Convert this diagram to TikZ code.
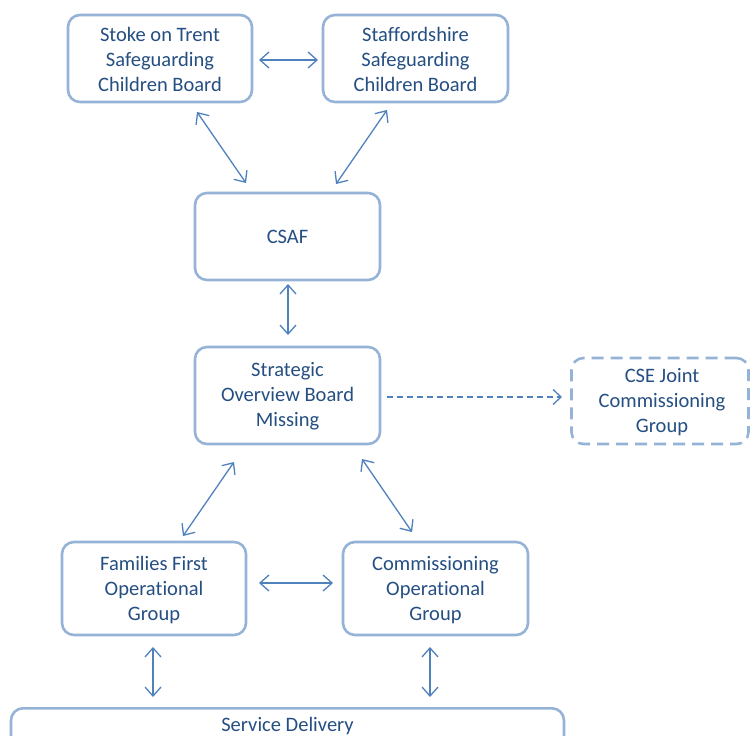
\documentclass[tikz,border=0pt]{standalone}
\usepackage{fontspec}
\setmainfont[Ligatures={NoCommon}]{Carlito}
\usetikzlibrary{arrows.meta}
\definecolor{boxc}{HTML}{95B3D7}
\definecolor{arrc}{HTML}{4F81BD}
\definecolor{txtc}{HTML}{254F82}
\begin{document}
\begin{tikzpicture}[x=1pt,y=-1pt,
  box/.style={draw=boxc,line width=2.6pt,rounded corners=12pt,fill=white,
    text=txtc,align=center,font=\fontsize{20.5}{25}\selectfont,inner sep=0pt},
  con/.style={draw=arrc,line width=1.3pt,{Straight Barb[length=9pt,width=16pt]}-{Straight Barb[length=9pt,width=16pt]}},
  dcon/.style={draw=arrc,line width=1.3pt,dashed,dash pattern=on 6pt off 4pt,-{Straight Barb[length=8pt,width=15pt]}}]
\useasboundingbox (0,0) rectangle (750,736);
\clip (0,0) rectangle (750,736);
\node[box,minimum width=184pt,minimum height=87pt] (stoke) at (160,58.5) {};
\node[text=txtc,align=center,font=\fontsize{20.5}{25}\selectfont] (stoket) at (160,59.5) {Stoke on Trent\\Safeguarding\\Children Board};
\node[box,minimum width=185pt,minimum height=87pt] (staffs) at (415.5,58.5) {};
\node[text=txtc,align=center,font=\fontsize{20.5}{25}\selectfont] (staffst) at (415.5,59.5) {Staffordshire\\Safeguarding\\Children Board};
\node[box,minimum width=185pt,minimum height=87pt] (csaf) at (287.5,236.5) {CSAF};
\node[box,minimum width=185pt,minimum height=97pt] (sob) at (287.5,395.5) {};
\node[text=txtc,align=center,font=\fontsize{20.5}{25}\selectfont] (sobt) at (287.5,396.5) {Strategic\\Overview Board\\Missing};
\node[box,dashed,dash pattern=on 12pt off 7pt,minimum width=177pt,minimum height=86pt] (cse) at (660,401) {};
\node[text=txtc,align=center,font=\fontsize{20.5}{25}\selectfont] (cset) at (662,402) {CSE Joint\\Commissioning\\Group};
\node[box,minimum width=184pt,minimum height=93pt] (ff) at (154,588.5) {};
\node[text=txtc,align=center,font=\fontsize{20.5}{25}\selectfont] (fft) at (154,590) {Families First\\Operational\\Group};
\node[box,minimum width=185pt,minimum height=93pt] (cog) at (435.5,588.5) {};
\node[text=txtc,align=center,font=\fontsize{20.5}{25}\selectfont] (cogt) at (435.5,590) {Commissioning\\Operational\\Group};
\node[box,minimum width=553pt,minimum height=60pt,anchor=north] (sd) at (287.5,707) {};
\node[text=txtc,font=\fontsize{20.5}{25}\selectfont,anchor=base] (sdt) at (287.5,731) {Service Delivery};
\coordinate (a1) at (259,60); \coordinate (a2) at (318,60);
\draw[con] (a1) -- (a2);
\coordinate (b1) at (197,112); \coordinate (b2) at (246,183);
\draw[con] (b1) -- (b2);
\coordinate (c1) at (387,110); \coordinate (c2) at (336,184);
\draw[con] (c1) -- (c2);
\coordinate (d1) at (288,284); \coordinate (d2) at (288,335);
\draw[con] (d1) -- (d2);
\coordinate (e1) at (387,397); \coordinate (e2) at (562,397);
\draw[dcon] (e1) -- (e2);
\coordinate (f1) at (234,462); \coordinate (f2) at (183,536);
\draw[con] (f1) -- (f2);
\coordinate (g1) at (362,459); \coordinate (g2) at (412,532);
\draw[con] (g1) -- (g2);
\coordinate (h1) at (259,583); \coordinate (h2) at (333,583);
\draw[con] (h1) -- (h2);
\coordinate (i1) at (153,647); \coordinate (i2) at (153,697);
\draw[con] (i1) -- (i2);
\coordinate (j1) at (430,647); \coordinate (j2) at (430,697);
\draw[con] (j1) -- (j2);
\end{tikzpicture}
\end{document}
